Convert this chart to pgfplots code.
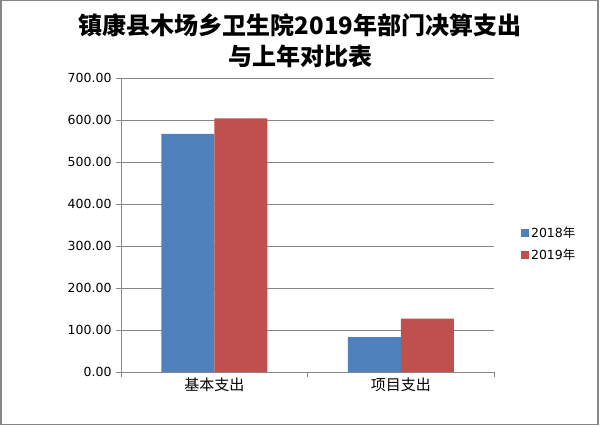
\documentclass[border=0pt]{standalone}
\usepackage{fontspec}
\setmainfont{DejaVu Sans}
\newfontfamily\cjk{Noto Sans CJK SC}
\usepackage{pgfplots}
\pgfplotsset{compat=1.18}
\definecolor{c2018}{HTML}{4F81BD}
\definecolor{c2019}{HTML}{C0504D}
\definecolor{gridc}{HTML}{878787}
\begin{document}
\begin{tikzpicture}
\useasboundingbox (0pt,0pt) rectangle (600pt,426pt);
\fill[white] (0pt,0pt) rectangle (600pt,426pt);
\draw[gridc,line width=1.5pt] (0.75pt,1.5pt) rectangle (598pt,425.25pt);
\begin{axis}[
  at={(121pt,54pt)}, anchor=south west,
  scale only axis, width=373pt, height=294pt,
  ybar=0pt, bar width=53pt,
  xmin=-0.5, xmax=1.5, ymin=0, ymax=700,
  xtick={-0.5,0.5,1.5}, xticklabels={},
  extra x ticks={0,1},
  extra x tick labels={{\cjk 基本支出},{\cjk 项目支出}},
  extra x tick style={major tick length=0pt},
  ytick={0,100,...,700},
  yticklabel={\pgfmathprintnumber[fixed,fixed zerofill,precision=2]{\tick}},
  /pgf/number format/assume math mode=true,
  axis x line*=bottom, axis y line*=left,
  axis line style={gridc,line width=0.9pt,-},
  ymajorgrids, grid style={gridc,line width=0.9pt},
  tick style={gridc,line width=0.9pt},
  tick align=outside, major tick length=5pt,
  yticklabel style={font=\fontsize{12.5}{14}\selectfont, xshift=-1pt},
  xticklabel style={font=\fontsize{15}{17}\selectfont, yshift=-2pt},
  legend style={at={(1.064,0.434)}, anchor=west, draw=none, fill=none,
    font=\fontsize{12.5}{14}\selectfont, row sep=6pt,
    /tikz/every even column/.append style={column sep=2pt}},
  legend cell align=left,
  legend image code/.code={\fill[#1] (0pt,-4pt) rectangle (8pt,4pt);},
]
\addplot[fill=c2018, draw=none] coordinates {(0,567) (1,83)};
\addplot[fill=c2019, draw=none] coordinates {(0,604) (1,127)};
\legend{2018{\cjk 年}, 2019{\cjk 年}}
\end{axis}
\node[font=\cjk\bfseries\fontsize{24}{28}\selectfont] at (300pt,401pt) {镇康县木场乡卫生院2019年部门决算支出};
\node[font=\cjk\bfseries\fontsize{24}{28}\selectfont] at (300pt,370pt) {与上年对比表};
\end{tikzpicture}
\end{document}
